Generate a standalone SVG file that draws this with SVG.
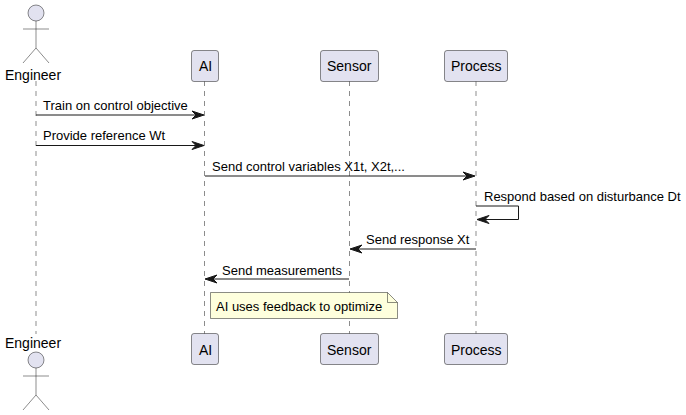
<svg xmlns="http://www.w3.org/2000/svg" width="686" height="415" viewBox="0 0 686 415">
<style>
text{font-family:"Liberation Sans",Arial,sans-serif;font-size:13px;fill:#000}
.p{font-size:14px}
.life{stroke:#181818;stroke-width:.5;stroke-dasharray:5,5;fill:none}
.box{fill:#E2E2F0;stroke:#181818;stroke-width:.5}
.act{fill:none;stroke:#181818;stroke-width:.5}
.head{fill:#E2E2F0;stroke:#181818;stroke-width:.5}
.msg{fill:none;stroke:#181818;stroke-width:1}
.tip{fill:#181818;stroke:#181818;stroke-width:1}
</style>
<defs>
<g id="stick">
<circle class="head" cx="0" cy="13" r="8"/>
<path class="act" d="M0 21V48M-13 29H13M0 48L-13 63M0 48L13 63"/>
</g>
</defs>
<g id="lifelines">
<path class="life" d="M36 81V334M204.500 81V334M349.500 81V334M476 81V334"/>
</g>
<g id="connectors">
<path class="msg" d="M36 115H200"/><polygon class="tip" points="192,111 204,115 192,119 196,115"/>
<path class="msg" d="M36 145.500H200"/><polygon class="tip" points="192,141.500 204,145.500 192,149.500 196,145.500"/>
<path class="msg" d="M205 176H471"/><polygon class="tip" points="463,172 475,176 463,180 467,176"/>
<path class="msg" d="M476 206H518.500V219.500H481"/><polygon class="tip" points="489,215.500 477,219.500 489,223.500 485,219.500"/>
<path class="msg" d="M476 249H354"/><polygon class="tip" points="362,245 350,249 362,253 358,249"/>
<path class="msg" d="M349 279H209"/><polygon class="tip" points="217,275 205,279 217,283 213,279"/>
</g>
<g id="label-1"><text x="43" y="110">Train on control objective</text></g>
<g id="label-2"><text x="43" y="140">Provide reference Wt</text></g>
<g id="label-3"><text x="212" y="171">Send control variables X1t, X2t,...</text></g>
<g id="label-4"><text x="484" y="201">Respond based on disturbance Dt</text></g>
<g id="label-5"><text x="366" y="244">Send response Xt</text></g>
<g id="label-6"><text x="222" y="275">Send measurements</text></g>
<g id="engineer-top"><use href="#stick" x="36" y="0"/><text class="p" x="5" y="80">Engineer</text></g>
<g id="ai-top"><rect class="box" x="191.500" y="50.500" width="27" height="31" rx="2.500"/><text class="p" x="199" y="71">AI</text></g>
<g id="sensor-top"><rect class="box" x="320.500" y="50.500" width="58" height="31" rx="2.500"/><text class="p" x="327" y="71">Sensor</text></g>
<g id="process-top"><rect class="box" x="444.500" y="50.500" width="63" height="31" rx="2.500"/><text class="p" x="451" y="71">Process</text></g>
<g id="note">
<path d="M210.500 292.500H387.500L397.500 302.500V318.500H210.500Z" fill="#FEFFDD" stroke="#181818" stroke-width=".5"/>
<path d="M387.500 292.500V302.500H397.500" fill="none" stroke="#181818" stroke-width=".5"/>
<text x="216" y="311">AI uses feedback to optimize</text>
</g>
<g id="engineer-bottom"><text class="p" x="5" y="348">Engineer</text><use href="#stick" x="36" y="347"/></g>
<g id="ai-bottom"><rect class="box" x="191.500" y="333.500" width="27" height="31" rx="2.500"/><text class="p" x="199" y="355">AI</text></g>
<g id="sensor-bottom"><rect class="box" x="320.500" y="333.500" width="58" height="31" rx="2.500"/><text class="p" x="327" y="355">Sensor</text></g>
<g id="process-bottom"><rect class="box" x="444.500" y="333.500" width="63" height="31" rx="2.500"/><text class="p" x="451" y="355">Process</text></g>
</svg>
